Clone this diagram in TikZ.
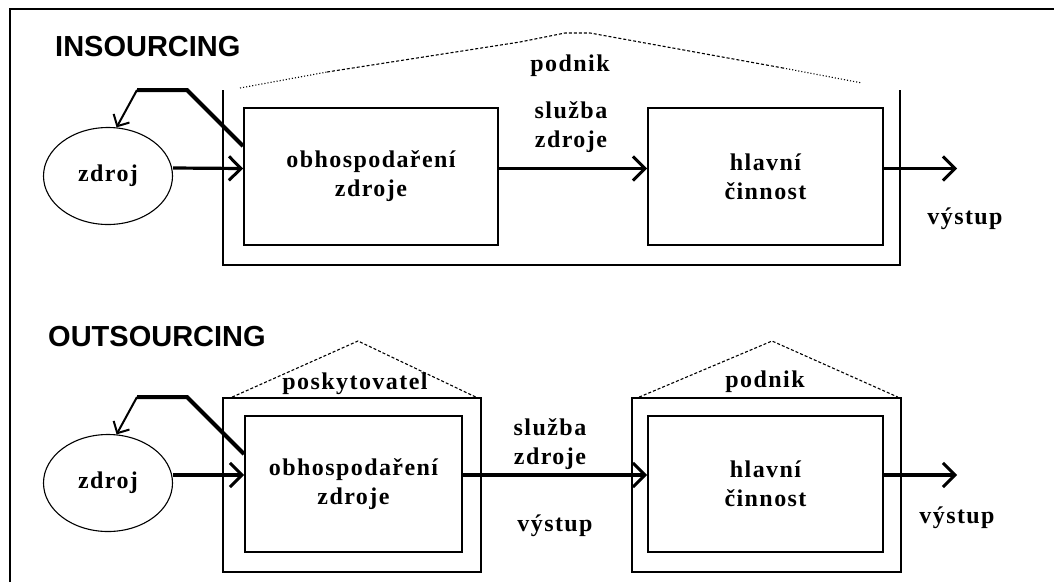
\documentclass[tikz,border=0pt]{standalone}
\usepackage{fontspec}
\setmainfont[LetterSpace=6]{Liberation Serif}
\newfontfamily\ttlfont{Liberation Sans}
\usetikzlibrary{arrows.meta,shapes.geometric}
\begin{document}
\begin{tikzpicture}[x=1pt,y=-1pt,
    box/.style={draw,line width=1.8pt,inner sep=0pt,minimum height=137pt},
    ell/.style={draw,ellipse,line width=1.1pt,minimum width=129pt,minimum height=97pt,inner sep=0pt},
    lbl/.style={font=\fontsize{24}{29}\selectfont\bfseries,align=center,inner sep=0pt},
    ttl/.style={font=\ttlfont\fontsize{29}{32}\selectfont\bfseries,anchor=west,inner sep=0pt},
    frameline/.style={line width=1.8pt},
    roof/.style={line width=1.1pt,densely dashed},
    arr/.style={line width=3.2pt,-{Straight Barb[length=12pt,width=24pt,line width=3pt]}},
    fb/.style={line width=4pt,line join=miter},
    fbtip/.style={line width=2pt,-{Straight Barb[length=9pt,width=18pt,line width=2pt]}}]
  \useasboundingbox (0,0) rectangle (1054,582);
  \draw[frameline] (10,582) -- (10,9) -- (1054,9);

  \node[ttl] (ins) at (55,47) {INSOURCING};
  \node[ell,lbl] (zdroj1) at (108,176) {zdroj};
  \node[box,lbl,minimum width=254pt] (obh1) at (371,176.5) {obhospodaření\\zdroje};
  \node[box,lbl,minimum width=235pt] (hl1) at (765.5,176.5) {hlavní\\činnost};
  \draw[frameline] (223,90) -- (223,265) -- (900,265) -- (900,90);
  \draw[line width=1.1pt,dotted] (240,88) -- (327,72);
  \draw[roof] (327,72) -- (520,42) -- (565,33) -- (590,33) -- (783,68);
  \draw[line width=1.1pt,dotted] (783,68) -- (862,83);
  \node[lbl] (podnik1) at (570,66) {podnik};
  \node[lbl] (sluzba1) at (571,127) {služba\\zdroje};
  \node[lbl] (vystup1) at (965,219) {výstup};
  \coordinate (out1) at (957,168.5);
  \coordinate (fb1a) at (187,90);
  \coordinate (fb1b) at (137,90);
  \draw[arr] ([yshift=8pt]zdroj1.east) -- ([yshift=8pt]obh1.west);
  \draw[arr] ([yshift=8pt]obh1.east) -- ([yshift=8pt]hl1.west);
  \draw[arr] ([yshift=8pt]hl1.east) -- (out1);
  \draw[fb] ([yshift=-39pt]obh1.north west) -- (fb1a) -- (fb1b);
  \draw[fbtip] (fb1b) -- (zdroj1.80);

  \node[ttl] (outs) at (48,337) {OUTSOURCING};
  \node[ell,lbl] (zdroj2) at (108,483) {zdroj};
  \node[box,minimum width=258pt,minimum height=174pt] (posk) at (352,485) {};
  \node[box,lbl,minimum width=217pt,minimum height=136pt] (obh2) at (353.5,484) {obhospodaření\\zdroje};
  \node[box,minimum width=269pt,minimum height=174pt] (podnikbox) at (766.5,485) {};
  \node[box,lbl,minimum width=235pt,minimum height=136pt] (hl2) at (765.5,484) {hlavní\\činnost};
  \coordinate (posktop) at (358,341);
  \coordinate (podniktop) at (772,341);
  \draw[roof] ([xshift=10pt]posk.north west) -- (posktop) -- ([xshift=-6pt]posk.north east);
  \draw[roof] ([xshift=8pt]podnikbox.north west) -- (podniktop) -- ([xshift=-4pt]podnikbox.north east);
  \node[lbl] (posklbl) at (355,384) {poskytovatel};
  \node[lbl] (podnik2) at (765,382) {podnik};
  \node[lbl] (sluzba2) at (550,444) {služba\\zdroje};
  \node[lbl] (vystup2) at (555,526) {výstup};
  \node[lbl] (vystup3) at (957,518) {výstup};
  \coordinate (out2) at (957,475);
  \coordinate (fb2a) at (187,397);
  \coordinate (fb2b) at (137,397);
  \draw[arr] ([yshift=8pt]zdroj2.east) -- ([yshift=9pt]obh2.west);
  \draw[arr] ([yshift=9pt]obh2.east) -- ([yshift=9pt]hl2.west);
  \draw[arr] ([yshift=9pt]hl2.east) -- (out2);
  \draw[fb] ([yshift=-39pt]obh2.north west) -- (fb2a) -- (fb2b);
  \draw[fbtip] (fb2b) -- (zdroj2.80);
\end{tikzpicture}
\end{document}
